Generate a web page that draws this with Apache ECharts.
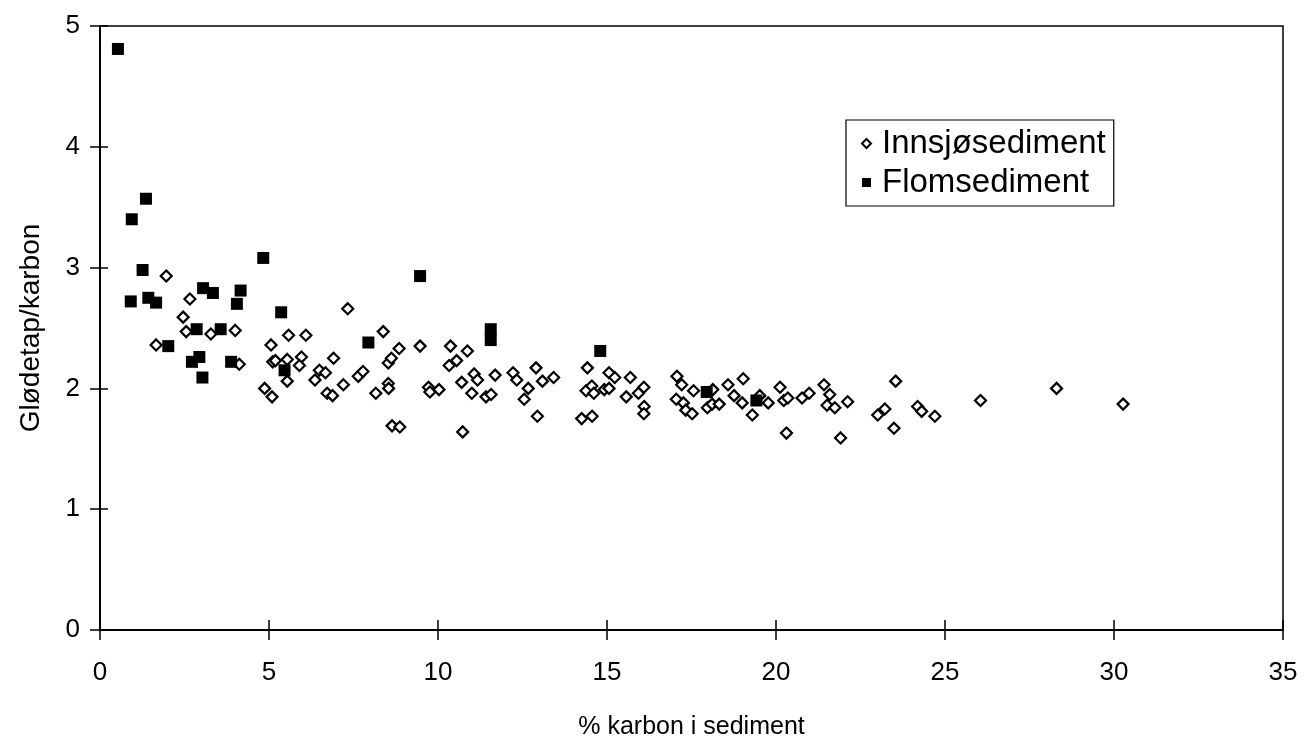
<!DOCTYPE html>
<html>
<head>
<meta charset="utf-8">
<script src="https://cdn.jsdelivr.net/npm/echarts@6/dist/echarts.min.js"></script>
<style>
html,body{margin:0;padding:0;background:#fff;}
#c{width:1307px;height:745px;}
</style>
</head>
<body>
<div id="c"></div>
<script>
const xTicks = [0, 5, 10, 15, 20, 25, 30, 35];
const yTicks = [0, 1, 2, 3, 4, 5];
const seriesNames = ['Innsjøsediment', 'Flomsediment'];
const xTitle = '% karbon i sediment';
const yTitle = 'Glødetap/karbon';

const flomsediment = [
  [0.53,4.81],[1.36,3.57],[0.94,3.40],[1.26,2.98],[4.83,3.08],[9.47,2.93],
  [0.91,2.72],[1.43,2.75],[1.66,2.71],[3.05,2.83],[3.34,2.79],[4.16,2.81],
  [4.05,2.70],[5.36,2.63],[2.86,2.49],[3.57,2.49],[2.02,2.35],[7.94,2.38],
  [2.72,2.22],[2.94,2.26],[3.88,2.22],[3.03,2.09],[5.46,2.15],[11.56,2.49],
  [11.56,2.40],[14.80,2.31],[17.95,1.97],[19.42,1.90]
];

const innsjosediment = [
  [1.96,2.93],[2.66,2.74],[2.46,2.59],[2.55,2.47],[3.28,2.45],[4.00,2.48],
  [1.66,2.36],[4.12,2.20],[7.33,2.66],[5.06,2.36],[5.58,2.44],[6.09,2.44],
  [8.38,2.47],[8.85,2.33],[9.47,2.35],[5.11,2.22],[5.19,2.23],[5.54,2.24],
  [5.96,2.26],[5.90,2.19],[5.54,2.06],[4.87,2.00],[5.09,1.93],[6.36,2.07],
  [6.49,2.15],[6.67,2.13],[6.91,2.25],[6.72,1.96],[6.88,1.94],[7.20,2.03],
  [7.64,2.10],[7.78,2.14],[8.16,1.96],[8.53,2.21],[8.62,2.25],[8.53,2.04],
  [8.54,2.00],[8.64,1.69],[8.87,1.68],
  [10.37,2.35],[10.87,2.31],[10.55,2.23],[10.33,2.19],[9.72,2.01],[9.76,1.97],
  [10.03,1.99],[10.73,1.64],[10.70,2.05],[11.07,2.12],[11.17,2.07],[11.00,1.96],
  [11.42,1.93],[11.57,1.95],[11.69,2.11],[12.22,2.13],[12.33,2.07],[12.90,2.17],
  [12.67,2.00],[12.55,1.91],[13.09,2.06],[13.42,2.09],[12.94,1.77],[14.25,1.75],
  [14.56,1.77],[14.42,2.17],[14.38,1.98],[14.55,2.02],[14.61,1.96],[14.92,1.99],
  [15.06,2.00],[15.06,2.13],[15.23,2.09],[15.69,2.09],[15.57,1.93],[15.93,1.96],
  [16.09,2.01],[16.10,1.85],[16.09,1.79],[17.07,2.10],[17.21,2.03],[17.56,1.98],
  [17.05,1.91],[17.26,1.88],[17.33,1.82],[17.52,1.79],[18.13,1.99],[17.97,1.84],
  [18.11,1.87],[18.32,1.87],[18.58,2.03],
  [19.03,2.08],[18.76,1.94],[19.00,1.88],[19.30,1.78],[19.52,1.94],[19.77,1.88],
  [20.12,2.01],[20.23,1.90],[20.35,1.92],[20.31,1.63],[20.77,1.92],[20.98,1.96],
  [21.42,2.03],[21.59,1.95],[21.51,1.86],[21.74,1.84],[22.12,1.89],[21.91,1.59],
  [23.54,2.06],[23.01,1.78],[23.22,1.83],[23.49,1.67],[24.19,1.85],[24.31,1.81],
  [24.70,1.77],[26.05,1.90],[28.30,2.00],[30.27,1.87]
];

const FONT = '"Liberation Sans", Arial, Helvetica, sans-serif';
const xMin = xTicks[0], xMax = xTicks[xTicks.length-1], xInt = xTicks[1]-xTicks[0];
const yMin = yTicks[0], yMax = yTicks[yTicks.length-1], yInt = yTicks[1]-yTicks[0];

const chart = echarts.init(document.getElementById('c'), null, {renderer:'canvas'});
const lineStyle = {color:'#000', width:2};
chart.setOption({
  animation:false,
  backgroundColor:'#fff',
  grid:{left:100, right:24, top:26, bottom:114, show:true, borderColor:'#000', borderWidth:1.5, backgroundColor:'transparent'},
  legend:{
    orient:'vertical', left:846, top:120,
    padding:[7,8,7,15], itemGap:6,
    borderColor:'#000', borderWidth:1.2,
    itemWidth:9, itemHeight:9,
    textStyle:{fontFamily:FONT, fontSize:33, color:'#000', padding:[0,0,0,6]},
    data:seriesNames
  },
  xAxis:[
    {type:'value', min:xMin, max:xMax, interval:xInt, position:'bottom',
     name:xTitle, nameLocation:'middle', nameGap:85,
     nameTextStyle:{fontFamily:FONT, fontSize:25, color:'#000'},
     axisLine:{show:true, onZero:false, lineStyle:lineStyle},
     axisTick:{show:true, inside:false, length:10, lineStyle:{color:'#000', width:1.5}},
     axisLabel:{fontFamily:FONT, fontSize:26, color:'#000', margin:30},
     splitLine:{show:false}},
    {type:'value', min:xMin, max:xMax, interval:xInt, position:'bottom',
     axisLine:{show:false, onZero:false},
     axisTick:{show:true, inside:true, length:10, lineStyle:{color:'#000', width:1.5}},
     axisLabel:{show:false}, splitLine:{show:false}}
  ],
  yAxis:[
    {type:'value', min:yMin, max:yMax, interval:yInt, position:'left',
     name:yTitle, nameLocation:'middle', nameGap:55,
     nameTextStyle:{fontFamily:FONT, fontSize:28, color:'#000'},
     axisLine:{show:true, onZero:false, lineStyle:lineStyle},
     axisTick:{show:true, inside:false, length:10, lineStyle:{color:'#000', width:1.5}},
     axisLabel:{fontFamily:FONT, fontSize:26, color:'#000', margin:20},
     splitLine:{show:false}},
    {type:'value', min:yMin, max:yMax, interval:yInt, position:'left',
     axisLine:{show:false, onZero:false},
     axisTick:{show:true, inside:true, length:8, lineStyle:{color:'#000', width:1.5}},
     axisLabel:{show:false}, splitLine:{show:false}}
  ],
  series:[
    {name:seriesNames[0], type:'scatter', xAxisIndex:0, yAxisIndex:0,
     symbol:'diamond', symbolSize:11,
     itemStyle:{color:'#fff', borderColor:'#000', borderWidth:2.2, opacity:1},
     data:innsjosediment, z:2},
    {name:seriesNames[1], type:'scatter', xAxisIndex:0, yAxisIndex:0,
     symbol:'rect', symbolSize:12,
     itemStyle:{color:'#000', borderColor:'#000', borderWidth:0, opacity:1},
     data:flomsediment, z:3}
  ]
});
</script>
</body>
</html>
